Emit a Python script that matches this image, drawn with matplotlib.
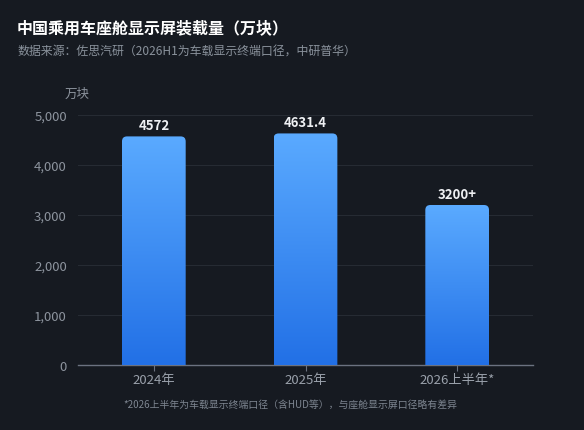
import matplotlib
matplotlib.use("Agg")
import matplotlib.pyplot as plt
import numpy as np
from matplotlib.path import Path
import matplotlib.colors as mcolors

plt.rcParams['font.family'] = ['Noto Sans CJK SC', 'DejaVu Sans']

categories = ["2024年", "2025年", "2026上半年*"]
values = [4572, 4631.4, 3200]
value_labels = ["4572", "4631.4", "3200+"]
yticks = [0, 1000, 2000, 3000, 4000, 5000]

BG = "#161a21"
fig = plt.figure(figsize=(5.84, 4.31), dpi=100, facecolor=BG)
ax = fig.add_axes([78/584, (431-366)/431, 455/584, 250/431])
ax.set_facecolor(BG)

x = np.arange(len(categories))
ax.set_xlim(-0.5, len(categories) - 0.5)
ax.set_ylim(0, 5000)
width = 0.42
bars = ax.bar(x, values, width=width, color="none", edgecolor="none", zorder=3)

cmap = mcolors.LinearSegmentedColormap.from_list("g", ["#2270e6", "#5aaaff"])
grad = np.linspace(0, 1, 256).reshape(-1, 1)

for b in bars:
    x0, y0 = b.get_x(), b.get_y()
    w, h = b.get_width(), b.get_height()
    rx = w * 5 / 64
    ry = 5000 * 5 / 250
    verts = [(x0, y0), (x0 + w, y0), (x0 + w, y0 + h - ry),
             (x0 + w, y0 + h), (x0 + w - rx, y0 + h),
             (x0 + rx, y0 + h), (x0, y0 + h), (x0, y0 + h - ry), (x0, y0)]
    codes = [Path.MOVETO, Path.LINETO, Path.LINETO, Path.CURVE3, Path.CURVE3,
             Path.LINETO, Path.CURVE3, Path.CURVE3, Path.CLOSEPOLY]
    path = Path(verts, codes)
    patch = matplotlib.patches.PathPatch(path, facecolor="none", edgecolor="none", transform=ax.transData)
    ax.add_patch(patch)
    im = ax.imshow(grad, cmap=cmap, extent=[x0, x0 + w, y0, y0 + h], origin="lower",
                   aspect="auto", zorder=3)
    im.set_clip_path(patch)

for xi, v, lab in zip(x, values, value_labels):
    ax.text(xi, v + 80, lab, ha="center", va="bottom", color="#eef0f3",
            fontsize=9.5, fontweight="semibold", zorder=4)

ax.set_yticks(yticks)
ax.set_yticklabels([f"{t:,}" for t in yticks])
ax.set_xticks(x)
ax.set_xticklabels(categories)
ax.grid(axis="y", color="#262b33", linewidth=0.8, zorder=0)
ax.set_axisbelow(True)
for s in ["top", "right", "left"]:
    ax.spines[s].set_visible(False)
ax.spines["bottom"].set_color("#6b7280")
ax.spines["bottom"].set_linewidth(1)
ax.tick_params(axis="y", length=0, colors="#8d949e", labelsize=9.5, pad=8)
ax.tick_params(axis="x", length=4, color="#6b7280", colors="#9aa1ab", labelsize=9.5, pad=2)

fig.text(17/584, 1 - 33/431, "中国乘用车座舱显示屏装载量（万块）", color="#ffffff",
         fontsize=11.5, fontweight="bold", va="baseline")
fig.text(17/584, 1 - 55/431, "数据来源：佐思汽研（2026H1为车载显示终端口径，中研普华）",
         color="#8a929c", fontsize=8.6, va="baseline")
fig.text(65/584, 1 - 98/431, "万块", color="#8d949e", fontsize=9, va="baseline")
fig.text(290/584, 1 - 408/431, "*2026上半年为车载显示终端口径（含HUD等），与座舱显示屏口径略有差异",
         color="#7d8590", fontsize=7.1, va="baseline", ha="center")

fig.savefig("out.png", dpi=100, facecolor=BG)
